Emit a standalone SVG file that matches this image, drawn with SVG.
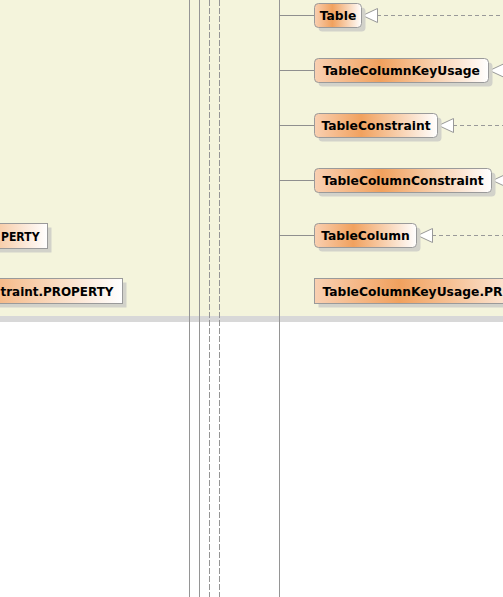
<svg xmlns="http://www.w3.org/2000/svg" width="503" height="597" viewBox="0 0 503 597">
<defs>
<linearGradient id="g" x1="0" y1="0" x2="1" y2="0">
<stop offset="0" stop-color="#f9d0b2"/>
<stop offset="0.38" stop-color="#f1a15e"/>
<stop offset="1" stop-color="#ffffff"/>
</linearGradient>
<linearGradient id="gp1" gradientUnits="userSpaceOnUse" x1="-100" y1="0" x2="47.5" y2="0">
<stop offset="0" stop-color="#f9d0b2"/>
<stop offset="0.38" stop-color="#f1a15e"/>
<stop offset="1" stop-color="#ffffff"/>
</linearGradient>
<linearGradient id="gp2" gradientUnits="userSpaceOnUse" x1="-150" y1="0" x2="122.5" y2="0">
<stop offset="0" stop-color="#f9d0b2"/>
<stop offset="0.38" stop-color="#f1a15e"/>
<stop offset="1" stop-color="#ffffff"/>
</linearGradient>
<linearGradient id="gp3" gradientUnits="userSpaceOnUse" x1="314.5" y1="0" x2="550" y2="0">
<stop offset="0" stop-color="#f9d0b2"/>
<stop offset="0.36" stop-color="#f1a15e"/>
<stop offset="1" stop-color="#ffffff"/>
</linearGradient>
</defs>
<style>
.bg{fill:#f4f4dc}
.band{fill:#d8d8d8}
.life{stroke:#959595;stroke-width:1;fill:none}
.dash{stroke-dasharray:6 2}
.cls{fill:url(#g);stroke:#9a9a9a;stroke-width:1}
.shadow{fill:#d2d2ca}
.lbl{font-family:"DejaVu Sans",sans-serif;font-weight:bold;font-size:12.3px;fill:#000}
.conn{stroke:#8f8f8f;stroke-width:1;fill:none}
.gen{stroke:#999;stroke-width:1;fill:none;stroke-dasharray:4 3}
.tri{fill:#fff;stroke:#999;stroke-width:1}
</style>
<rect class="bg" x="0" y="0" width="503" height="316"/>
<rect class="band" x="0" y="316" width="503" height="6"/>
<rect x="0" y="322" width="503" height="275" fill="#ffffff"/>
<g id="lifelines">
<line class="life" x1="189.5" y1="0" x2="189.5" y2="597"/>
<line class="life" x1="199.5" y1="0" x2="199.5" y2="597"/>
<line class="life dash" x1="209.5" y1="0" x2="209.5" y2="597"/>
<line class="life dash" x1="219.5" y1="0" x2="219.5" y2="597"/>
<line class="life" x1="279.5" y1="0" x2="279.5" y2="597"/>
</g>
<g id="connectors">
<line class="conn" x1="279.5" y1="15.5" x2="314.5" y2="15.5"/>
<line class="conn" x1="279.5" y1="70.5" x2="314.5" y2="70.5"/>
<line class="conn" x1="279.5" y1="125.5" x2="314.5" y2="125.5"/>
<line class="conn" x1="279.5" y1="180.5" x2="314.5" y2="180.5"/>
<line class="conn" x1="279.5" y1="235.5" x2="314.5" y2="235.5"/>
<line class="gen" x1="377" y1="15.5" x2="503" y2="15.5"/>
<polygon class="tri" points="362.5,15.5 377.5,8.5 377.5,22.5"/>
<polygon class="tri" points="489.5,70.5 504.5,63.5 504.5,77.5"/>
<line class="gen" x1="453" y1="125.5" x2="503" y2="125.5"/>
<polygon class="tri" points="438.5,125.5 453.5,118.5 453.5,132.5"/>
<polygon class="tri" points="492.5,180.5 507.5,173.5 507.5,187.5"/>
<line class="gen" x1="432" y1="235.5" x2="503" y2="235.5"/>
<polygon class="tri" points="417.5,235.5 432.5,228.5 432.5,242.5"/>
</g>
<g id="Table">
<rect class="shadow" x="318.5" y="7.5" width="47" height="24" rx="4"/>
<rect class="cls" x="314.5" y="3.5" width="47" height="24" rx="4"/>
<text class="lbl" x="338" y="20" text-anchor="middle">Table</text>
</g>
<g id="TableColumnKeyUsage">
<rect class="shadow" x="318.5" y="62.5" width="174" height="24" rx="4"/>
<rect class="cls" x="314.5" y="58.5" width="174" height="24" rx="4"/>
<text class="lbl" x="401.5" y="75" text-anchor="middle">TableColumnKeyUsage</text>
</g>
<g id="TableConstraint">
<rect class="shadow" x="318.5" y="117.5" width="123" height="24" rx="4"/>
<rect class="cls" x="314.5" y="113.5" width="123" height="24" rx="4"/>
<text class="lbl" x="376" y="130" text-anchor="middle">TableConstraint</text>
</g>
<g id="TableColumnConstraint">
<rect class="shadow" x="318.5" y="172.5" width="177" height="24" rx="4"/>
<rect class="cls" x="314.5" y="168.5" width="177" height="24" rx="4"/>
<text class="lbl" x="403" y="185" text-anchor="middle">TableColumnConstraint</text>
</g>
<g id="TableColumn">
<rect class="shadow" x="318.5" y="227.5" width="102" height="24" rx="4"/>
<rect class="cls" x="314.5" y="223.5" width="102" height="24" rx="4"/>
<text class="lbl" x="365.5" y="240" text-anchor="middle">TableColumn</text>
</g>
<g id="TableColumnKeyUsage.PROPERTY">
<rect class="shadow" x="318.5" y="282.5" width="240" height="25"/>
<rect x="314.5" y="278.5" width="240" height="25" fill="url(#gp3)" stroke="#9a9a9a"/>
<text class="lbl" x="322.5" y="295.5">TableColumnKeyUsage.PR</text>
</g>
<g id="PROPERTY1">
<rect class="shadow" x="-96" y="227.5" width="147.5" height="25"/>
<rect x="-100" y="223.5" width="147.5" height="25" fill="url(#gp1)" stroke="#9a9a9a"/>
<text class="lbl" x="1" y="240.5" textLength="38.5" lengthAdjust="spacingAndGlyphs">PERTY</text>
</g>
<g id="PROPERTY2">
<rect class="shadow" x="-146" y="282.5" width="272.5" height="25"/>
<rect x="-150" y="278.5" width="272.5" height="25" fill="url(#gp2)" stroke="#9a9a9a"/>
<text class="lbl" x="0.5" y="295.5" textLength="113" lengthAdjust="spacingAndGlyphs">traint.PROPERTY</text>
</g>
</svg>
